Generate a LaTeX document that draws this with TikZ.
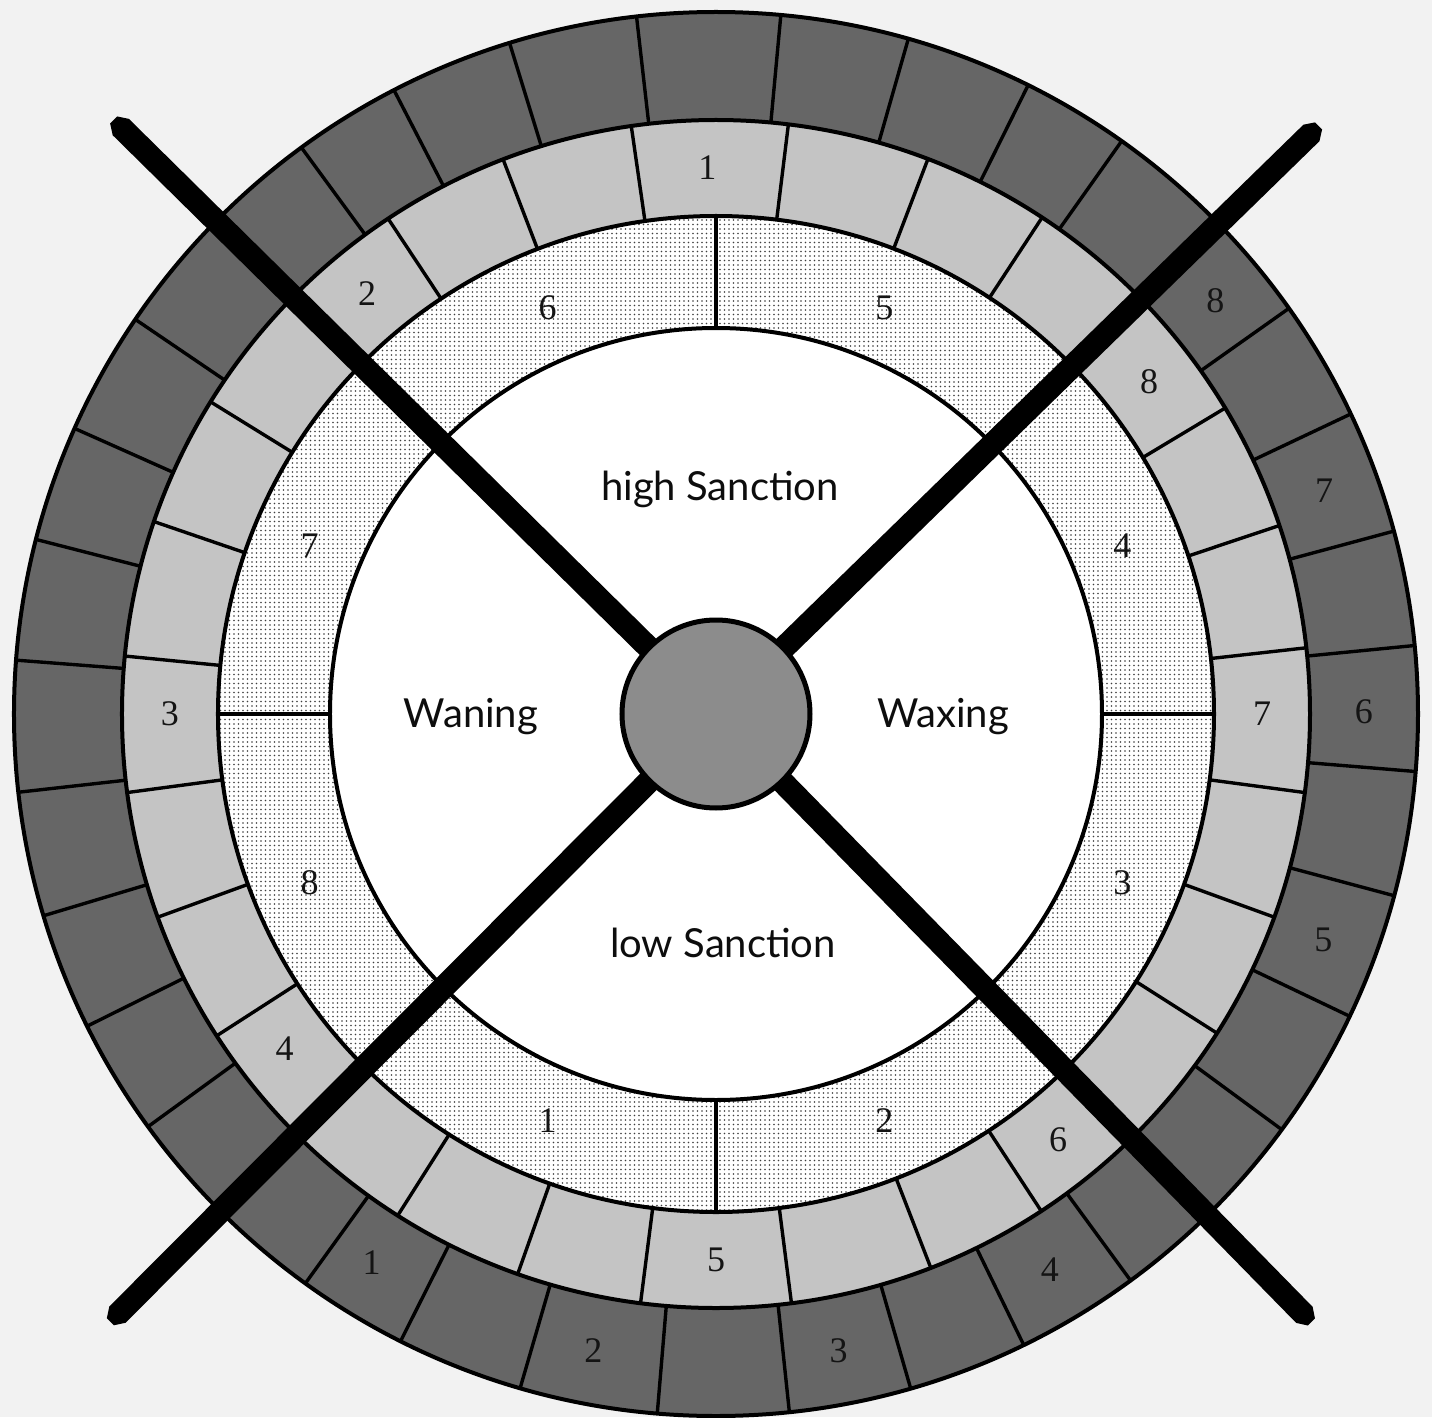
\documentclass[tikz,border=0pt]{standalone}
\usepackage{fontspec}
\newfontfamily\labfont{Lato}
\newfontfamily\numfont{Liberation Serif}
\usetikzlibrary{patterns.meta}
\begin{document}
\begin{tikzpicture}[x=1pt,y=1pt,
  ringline/.style={line width=4pt, draw=black},
  divider/.style={line width=3.4pt, draw=black},
  numlab/.style={font=\numfont\fontsize{36}{38}\selectfont, text=black!92, inner sep=0pt},
  wordlab/.style={font=\labfont\fontsize{40}{46}\selectfont, text=black!95, inner sep=0pt, anchor=base},
  hubdisc/.style={circle, minimum size=188pt, inner sep=0pt, fill=black!45, draw=black, line width=5pt},
  pics/spoke/.style 2 args={code={
    \fill[black, rotate=#1] (0,-11.5) -- ({#2-10},-11.5) -- (#2,-5) -- (#2,5) -- ({#2-10},11.5) -- (0,11.5) -- cycle;}}
]
\useasboundingbox[fill=black!5] (-716,-703) rectangle (716,714);
% rings
\fill[black!60] (0,0) circle[radius=702];
\fill[black!23] (0,0) circle[radius=594];
\fill[white] (0,0) circle[radius=498];
\fill[pattern={Dots[distance=4.5pt,radius=0.8pt]}, pattern color=black!75] (0,0) circle[radius=498];
\fill[white] (0,0) circle[radius=386];
% dark ring dividers
\foreach \a in {5.6,15.1,25.3,35.3,54.7,63.6,74.1,84.7,96.5,107.1,117.3,126.2,145.8,156,165.6,175.6,186.4,196.7,206.4,216,234.2,243.3,253.8,265.2,276,286.1,296,306.2,323.7,334.5,345,355.3}
  \draw[divider] (\a:594) -- (\a:702);
% light ring dividers
\foreach \a in {6.4,18.5,31,56.7,69.1,83,98.2,111,123.5,148.3,161.1,174.4,187.6,200,212.8,237.6,250.5,262.7,277.3,291.2,303.2,327.5,340,352.4}
  \draw[divider] (\a:498) -- (\a:594);
% dotted ring dividers
\foreach \a in {0,90,180,270}
  \draw[divider] (\a:386) -- (\a:498);
\foreach \r in {702,594,498,386}
  \draw[ringline] (0,0) circle[radius=\r];
% spokes
\coordinate (hub) at (0,0);
\pic at (hub) {spoke={135.4}{846}};
\pic at (hub) {spoke={44.3}{842}};
\pic at (hub) {spoke={-45.6}{851}};
\pic at (hub) {spoke={225.1}{858}};
\node[hubdisc] (hubc) at (hub) {};
% dotted ring numbers
\foreach \n/\a in {6/112.5,5/67.5,4/22.5,3/-22.5,2/-67.5,1/-112.5,8/-157.5,7/157.5}
  \node[numlab] (dot\n) at (\a:440) {\n};
% light ring numbers
\foreach \n/\a in {1/90.9,2/129.7,3/180,4/217.8,5/270,6/308.8,7/0,8/37.5}
  \node[numlab] (lit\n) at (\a:546) {\n};
% dark ring numbers
\foreach \n/\a in {1/237.9,2/259.1,3/280.9,4/301,5/339.6,6/0.2,7/20.2,8/39.6}
  \node[numlab] (drk\n) at (\a:648) {\n};
% words
\node[wordlab] (high) at (4,214) {high Sanction};
\node[wordlab] (wane) at (-245,-13) {Waning};
\node[wordlab] (wax) at (227,-13) {Waxing};
\node[wordlab] (low) at (7,-243) {low Sanction};
\end{tikzpicture}
\end{document}
